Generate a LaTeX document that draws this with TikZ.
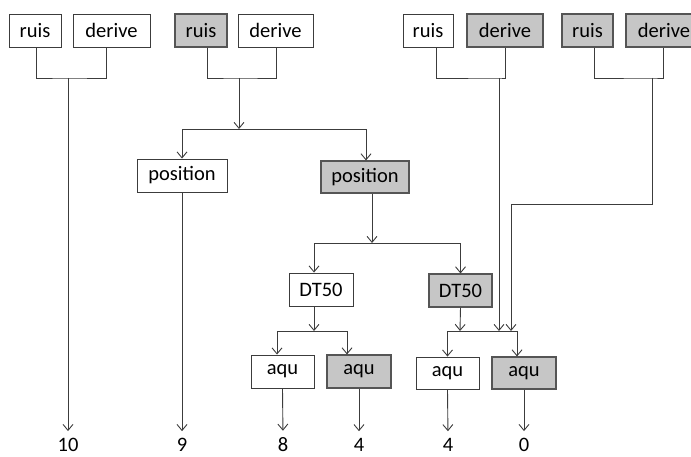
\documentclass[tikz,border=0pt]{standalone}
\usepackage{fontspec}
\setmainfont{Carlito}
\usetikzlibrary{arrows.meta}
\definecolor{linegray}{RGB}{60,60,60}
\definecolor{boxgray}{RGB}{198,198,198}
\definecolor{gborder}{RGB}{85,85,85}
\begin{document}
\begin{tikzpicture}[x=1pt,y=-1pt,
  box/.style={draw=linegray, line width=0.9pt, fill=white, minimum height=33pt, inner sep=0pt, font=\fontsize{20.5}{24}\selectfont, text=black},
  gbox/.style={box, fill=boxgray, draw=gborder, line width=1.1pt},
  conn/.style={draw=linegray, line width=0.9pt},
  arr/.style={conn, -{Straight Barb[length=6pt,width=10pt]}},
  num/.style={font=\fontsize{20.5}{24}\selectfont, inner sep=0pt, text=black}]
\useasboundingbox (0,0) rectangle (691,457);
% top row
\node[box,  minimum width=52pt] (r1) at (35,30.5) {ruis};
\node[box,  minimum width=77pt] (d1) at (111.5,30.5) {derive};
\node[gbox, minimum width=52pt] (r2) at (201,30.5) {ruis};
\node[box,  minimum width=75pt] (d2) at (275.5,30.5) {derive};
\node[box,  minimum width=50pt] (r3) at (428,30.5) {ruis};
\node[gbox, minimum width=76pt] (d3) at (505,30.5) {derive};
\node[gbox, minimum width=51pt] (r4) at (587.5,30.5) {ruis};
\node[gbox, minimum width=76pt] (d4) at (664,30.5) {derive};
% position
\node[box,  minimum width=90pt] (p1) at (182,175.5) {position};
\node[gbox, minimum width=88pt, minimum height=32pt] (p2) at (365,177) {position};
% DT50
\node[box,  minimum width=64pt] (t1) at (321,289.5) {DT50};
\node[gbox, minimum width=63pt] (t2) at (460.5,290.5) {DT50};
% aqu
\node[box,  minimum width=63pt] (a1) at (282.5,371.5) {aqu};
\node[gbox, minimum width=64pt] (a2) at (359,371.5) {aqu};
\node[box,  minimum width=63pt, minimum height=32pt] (a3) at (447.5,373) {aqu};
\node[gbox, minimum width=64pt, minimum height=32pt] (a4) at (524,373) {aqu};
% numbers
\node[num] (n10) at (68,445) {10};
\node[num] (n9)  at (182,445) {9};
\node[num] (n8)  at (283,445) {8};
\node[num] (n4a) at (359,445) {4};
\node[num] (n4b) at (448,445) {4};
\node[num] (n0)  at (524,445) {0};
% junction coordinates
\coordinate (j1) at (68,78);
\coordinate (j2) at (239,78);
\coordinate (j3) at (499,78);
\coordinate (j4) at (652,78);
\coordinate (s2) at (239,129);
\coordinate (s3) at (372,243);
\coordinate (s4) at (314,331);
\coordinate (s5) at (460,331);
\coordinate (k4) at (511,204);
% group 1
\draw[conn] ([xshift=1pt]r1.south) |- (j1) -| ([xshift=-5.5pt]d1.south);
\draw[arr, shorten >=7pt] (j1) -- (n10.north);
% group 2
\draw[conn] ([xshift=6pt]r2.south) |- (j2) -| ([xshift=0.5pt]d2.south);
\draw[arr] (j2) -- (s2);
\draw[arr] (s2) -| (p1.north);
\draw[arr] (s2) -| ([xshift=1pt]p2.north);
\draw[arr, shorten >=7pt] (p1.south) -- (n9.north);
\draw[arr] ([xshift=7pt]p2.south) -- (s3);
\draw[arr] (s3) -| ([xshift=-7pt]t1.north);
\draw[arr] (s3) -| (t2.north);
\draw[arr] ([xshift=-7pt]t1.south) -- (s4);
\draw[arr] (s4) -| ([xshift=-5.5pt]a1.north);
\draw[arr] (s4) -| ([xshift=-12pt]a2.north);
\draw[arr] (t2.south) -- (s5);
\draw[arr] (s5) -| (a3.north);
\draw[arr] (s5) -| ([xshift=-7pt]a4.north);
% group 3
\draw[conn] ([xshift=8pt]r3.south) |- (j3) -| (d3.south);
\draw[arr] (j3) -- (j3 |- s5);
% group 4
\draw[conn] ([xshift=6.5pt]r4.south) |- (j4) -| ([xshift=-1pt]d4.south);
\draw[arr] (j4) |- (k4) -- (k4 |- s5);
% outputs
\draw[arr, shorten >=7pt] (a1.south) -- (n8.north);
\draw[arr, shorten >=7pt] (a2.south) -- (n4a.north);
\draw[arr, shorten >=7pt] (a3.south) -- (n4b.north);
\draw[arr, shorten >=7pt] (a4.south) -- (n0.north);
\end{tikzpicture}
\end{document}
